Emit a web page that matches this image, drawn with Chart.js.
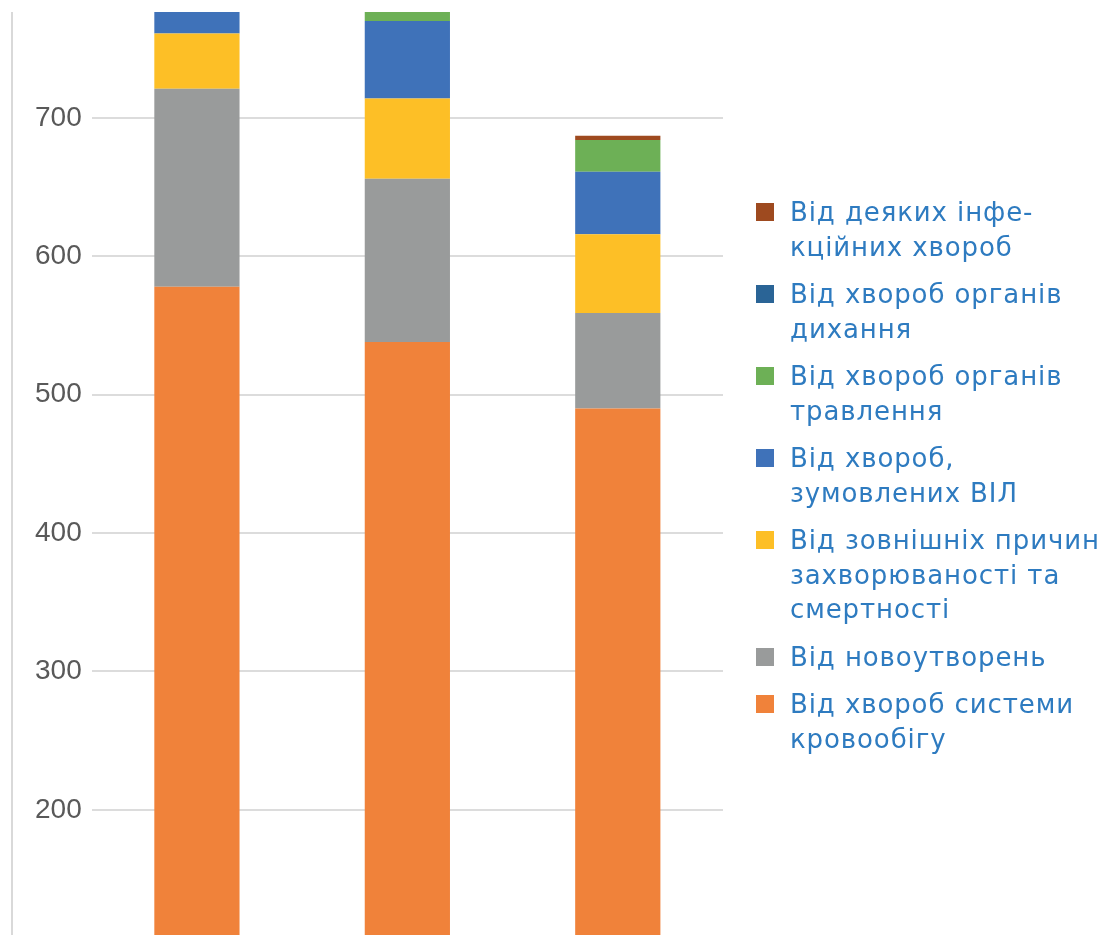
<!DOCTYPE html>
<html>
<head>
<meta charset="utf-8">
<script src="https://cdn.jsdelivr.net/npm/chart.js@4.4.1/dist/chart.umd.min.js"></script>
<style>
  html, body { margin: 0; padding: 0; background: #fff; }
  #wrap { position: relative; width: 1105px; height: 935px; overflow: hidden; }
  #frame { position: absolute; left: 11px; top: 12px; bottom: 0; width: 0; border-left: 2px solid #d9d9d9; }
  #legend { position: absolute; left: 756px; top: 195px; font-family: "DejaVu Sans", Verdana, sans-serif;
            font-size: 26px; letter-spacing: 0.9px; line-height: 34.5px; color: #2E7BC0; }
  .item { display: flex; align-items: flex-start; margin-bottom: 13px; }
  .box { width: 18px; height: 18px; margin-top: 8px; margin-right: 16px; flex: none; }
  .txt { white-space: pre-line; }
</style>
</head>
<body>
<div id="wrap">
  <canvas id="chart" width="1105" height="935"></canvas>
  <div id="frame"></div>
  <div id="legend"></div>
</div>
<script>
// Categories (x labels are cut off in the picture)
const categories = ["1", "2", "3"];

// Series, bottom to top of the stack
const circulatory = [578, 538, 490];   // Від хвороб системи кровообігу
const neoplasms   = [143, 118, 69];    // Від новоутворень
const external    = [40, 58, 57];      // Від зовнішніх причин
const hiv         = [45, 56, 45];      // Від хвороб, зумовлених ВІЛ
const digestive   = [22, 24, 23];      // Від хвороб органів травлення
const respiratory = [0, 0, 0];         // Від хвороб органів дихання
const infectious  = [4, 4, 3];         // Від деяких інфекційних хвороб

const seriesNames = [
    "Від хвороб системи\nкровообігу",
    "Від новоутворень",
    "Від зовнішніх причин\nзахворюваності та\nсмертності",
    "Від хвороб,\nзумовлених ВІЛ",
    "Від хвороб органів\nтравлення",
    "Від хвороб органів\nдихання",
    "Від деяких інфе-\nкційних хвороб"
];
const seriesColors = ["#F0823A", "#999B9B", "#FDBF26", "#3F72B9", "#6DB056", "#2A6496", "#9E4A1F"];
const seriesValues = [circulatory, neoplasms, external, hiv, digestive, respiratory, infectious];

const yTicks = [200, 300, 400, 500, 600, 700];

const datasets = seriesValues.map((vals, i) => ({
    label: seriesNames[i],
    data: vals,
    backgroundColor: seriesColors[i],
    borderWidth: 0,
    barPercentage: 0.405,
    categoryPercentage: 1
}));

const chart = new Chart(document.getElementById("chart"), {
    type: "bar",
    data: { labels: categories, datasets: datasets },
    options: {
        responsive: false,
        animation: false,
        layout: { padding: { left: 25, right: 382, top: 12, bottom: 0 } },
        plugins: { legend: { display: false }, tooltip: { enabled: false } },
        scales: {
            x: { stacked: true, display: false },
            y: {
                stacked: true,
                min: 109.6,
                max: 776.5,
                border: { display: false },
                grid: { color: "#dcdcdc", lineWidth: 2, drawTicks: false },
                afterBuildTicks: axis => {
                    axis.ticks = yTicks.map(v => ({ value: v }));
                },
                afterFit: axis => {
                    // ticks sit well inside the range, no edge padding needed
                    axis.paddingTop = 0;
                    axis.paddingBottom = 0;
                },
                ticks: {
                    padding: 10,
                    color: "#595959",
                    font: { family: "'Liberation Sans', Arial, sans-serif", size: 28 }
                }
            }
        }
    }
});

// Legend (top item = top of stack)
const legendEl = document.getElementById("legend");
for (let i = datasets.length - 1; i >= 0; i--) {
    const item = document.createElement("div");
    item.className = "item";
    item.innerHTML = `<span class="box" style="background:${seriesColors[i]}"></span><span class="txt"></span>`;
    item.querySelector(".txt").textContent = seriesNames[i];
    legendEl.appendChild(item);
}
</script>
</body>
</html>
